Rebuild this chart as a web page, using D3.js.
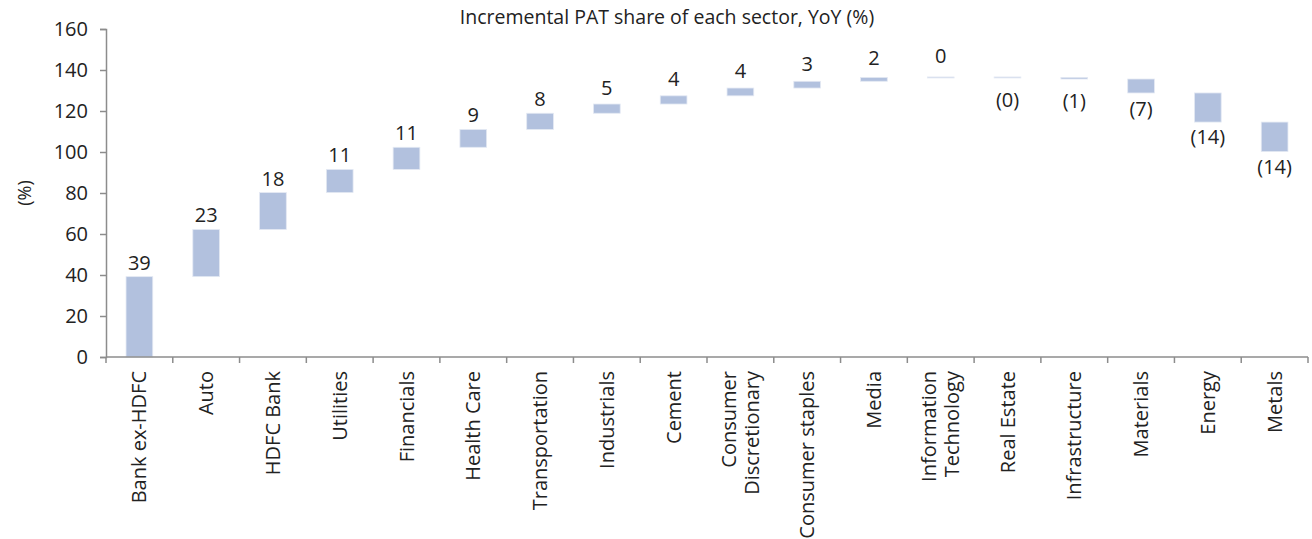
<!DOCTYPE html>
<html>
<head>
<meta charset="utf-8">
<script src="https://cdn.jsdelivr.net/npm/d3@7/dist/d3.min.js"></script>
<style>
  html, body { margin: 0; padding: 0; background: #fff; }
  svg { display: block; font-family: "Open Sans", "Noto Sans", sans-serif; }
</style>
</head>
<body>
<svg id="chart" width="1312" height="539"></svg>
<script>
const categories = ["Bank ex-HDFC", "Auto", "HDFC Bank", "Utilities", "Financials", "Health Care",
  "Transportation", "Industrials", "Cement", "Consumer\nDiscretionary", "Consumer staples", "Media",
  "Information\nTechnology", "Real Estate", "Infrastructure", "Materials", "Energy", "Metals"];
const values = [39.2, 23.0, 18.0, 11.3, 10.8, 8.7, 7.9, 4.5, 4.0, 3.8, 3.3, 1.9, 0.2, -0.2, -0.8, -6.8, -14.2, -14.4];
const valueLabels = ["39", "23", "18", "11", "11", "9", "8", "5", "4", "4", "3", "2", "0", "(0)", "(1)", "(7)", "(14)", "(14)"];
const yTicks = [0, 20, 40, 60, 80, 100, 120, 140, 160];
const title = "Incremental PAT share of each sector, YoY (%)";
const yTitle = "(%)";

const svg = d3.select("#chart");
const margin = { left: 106 };
const x = d3.scaleBand().domain(d3.range(categories.length)).range([margin.left, 1308]).paddingInner(0).paddingOuter(0);
const y = d3.scaleLinear().domain([0, 160]).range([357, 29]);

// waterfall data
let cum = 0;
const data = values.map((v, i) => {
  const start = cum; cum += v;
  return { i, v, start, end: cum, lo: Math.min(start, cum), hi: Math.max(start, cum), label: valueLabels[i] };
});

const textColor = "#222222";
const axisColor = "#8c8c8c";
const barColor = "#b2c1de";
const fs = 20;

// title
svg.append("text").attr("x", 667).attr("y", 24).attr("text-anchor", "middle")
  .attr("font-size", 19.5).attr("fill", textColor).text(title);

// y axis
const yAxis = svg.append("g").attr("transform", `translate(${margin.left},0)`)
  .call(d3.axisLeft(y).tickValues(yTicks).tickSize(6).tickPadding(12));
yAxis.select(".domain").attr("stroke", axisColor).attr("stroke-width", 1.5);
yAxis.selectAll(".tick line").attr("stroke", axisColor).attr("stroke-width", 1.5);
yAxis.selectAll(".tick text").attr("font-size", fs).attr("fill", textColor)
  .attr("font-family", "'Open Sans', sans-serif");

svg.append("text").attr("transform", `translate(25,193) rotate(-90)`).attr("text-anchor", "middle")
  .attr("dy", "0.35em").attr("font-size", 18).attr("fill", textColor).text(yTitle);

// bars
const bw = x.bandwidth() * 0.4;
svg.append("g").selectAll("rect").data(data).join("rect")
  .attr("x", d => x(d.i) + (x.bandwidth() - bw) / 2)
  .attr("width", bw)
  .attr("y", d => y(d.hi))
  .attr("height", d => Math.max(1, y(d.lo) - y(d.hi)))
  .attr("fill", barColor)
  .attr("stroke", "#e4e9f3").attr("stroke-width", 0.8);

// x axis (boundary ticks)
const xa = svg.append("g");
xa.append("line").attr("x1", margin.left).attr("x2", 1308).attr("y1", y(0)).attr("y2", y(0))
  .attr("stroke", axisColor).attr("stroke-width", 1.5);
const bounds = d3.range(categories.length + 1).map(i => i < categories.length ? x(i) : x(i - 1) + x.bandwidth());
xa.selectAll("line.tk").data(bounds).join("line").attr("class", "tk")
  .attr("x1", d => d).attr("x2", d => d).attr("y1", y(0)).attr("y2", y(0) + 6)
  .attr("stroke", axisColor).attr("stroke-width", 1.5);

// category labels
const lineH = 23;
xa.selectAll("text.cat").data(categories).join("text").attr("class", "cat")
  .attr("transform", (d, i) => `translate(${x(i) + x.bandwidth() / 2},371) rotate(-90)`)
  .attr("text-anchor", "end").attr("font-size", fs).attr("fill", textColor)
  .each(function (d) {
    const lines = d.split("\n");
    const t = d3.select(this);
    lines.forEach((ln, k) => {
      const off = (k - (lines.length - 1) / 2) * lineH + 7;
      t.append("tspan").attr("x", 0).attr("y", off).text(ln);
    });
  });

// value labels
svg.append("g").selectAll("text").data(data).join("text")
  .attr("x", d => x(d.i) + x.bandwidth() / 2)
  .attr("y", d => {
    const top = y(d.hi), bot = y(d.lo), mid = (top + bot) / 2;
    return d.v >= 0 ? Math.min(top - 7, mid - 14) : Math.max(bot + 22, mid + 30);
  })
  .attr("text-anchor", "middle").attr("font-size", fs).attr("fill", textColor)
  .text(d => d.label);
</script>
</body>
</html>
